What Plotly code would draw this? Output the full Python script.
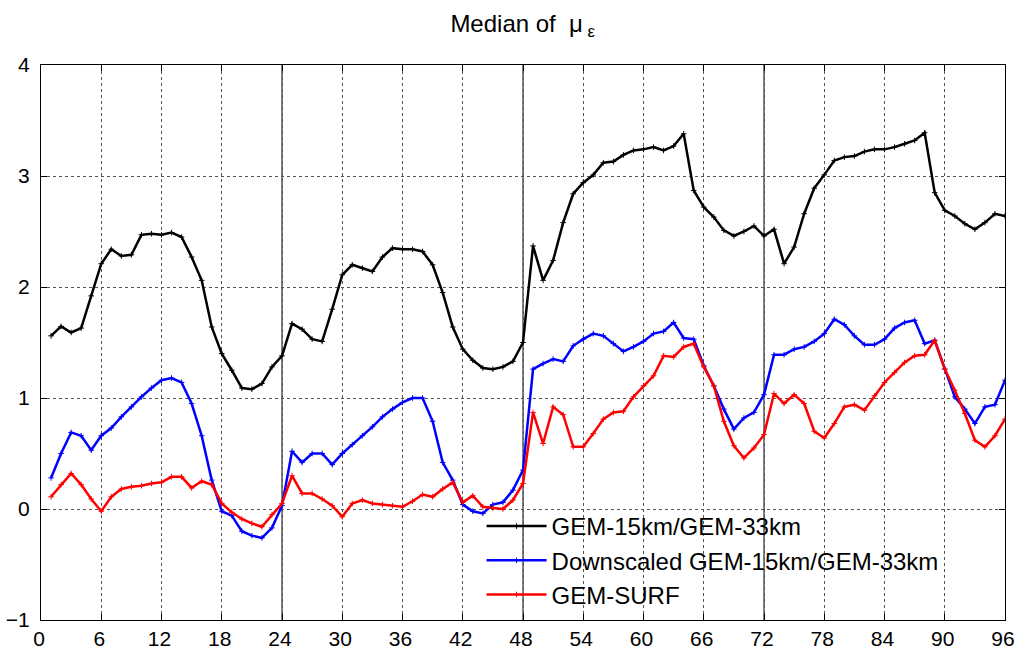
import plotly.graph_objects as go

hours = list(range(1, 97))

gem15_33 = [1.56, 1.645, 1.59, 1.63, 1.92, 2.21, 2.34, 2.28, 2.29, 2.47, 2.48, 2.47,
            2.49, 2.45, 2.27, 2.06, 1.64, 1.40, 1.25, 1.09, 1.08, 1.13, 1.28, 1.38,
            1.67, 1.62, 1.53, 1.51, 1.80, 2.11, 2.20, 2.17, 2.14, 2.27, 2.35, 2.34,
            2.34, 2.32, 2.20, 1.95, 1.64, 1.44, 1.34, 1.27, 1.26, 1.28, 1.33, 1.50,
            2.37, 2.06, 2.24, 2.58, 2.84, 2.94, 3.01, 3.12, 3.13, 3.19, 3.23, 3.24,
            3.26, 3.23, 3.27, 3.38, 2.87, 2.72, 2.63, 2.51, 2.46, 2.50, 2.55, 2.46,
            2.52, 2.21, 2.36, 2.66, 2.89, 3.01, 3.14, 3.17, 3.18, 3.22, 3.24, 3.24,
            3.26, 3.29, 3.32, 3.39, 2.85, 2.69, 2.64, 2.57, 2.52, 2.58, 2.66, 2.64]

downscaled = [0.28, 0.50, 0.69, 0.66, 0.53, 0.66, 0.73, 0.83, 0.92, 1.01, 1.09, 1.16,
              1.18, 1.14, 0.95, 0.66, 0.26, -0.02, -0.06, -0.20, -0.24, -0.26, -0.17, 0.03,
              0.52, 0.42, 0.50, 0.50, 0.40, 0.50, 0.58, 0.66, 0.74, 0.83, 0.90, 0.96,
              1.00, 1.00, 0.79, 0.42, 0.26, 0.04, -0.02, -0.04, 0.04, 0.06, 0.17, 0.35,
              1.26, 1.31, 1.35, 1.33, 1.47, 1.53, 1.58, 1.56, 1.49, 1.42, 1.46, 1.51,
              1.58, 1.60, 1.68, 1.54, 1.53, 1.29, 1.11, 0.90, 0.72, 0.82, 0.87, 1.03,
              1.39, 1.39, 1.44, 1.46, 1.51, 1.58, 1.71, 1.66, 1.56, 1.48, 1.48, 1.53,
              1.63, 1.68, 1.70, 1.49, 1.52, 1.26, 1.01, 0.90, 0.77, 0.92, 0.94, 1.16]

gem_surf = [0.11, 0.22, 0.32, 0.22, 0.09, -0.02, 0.11, 0.18, 0.20, 0.21, 0.23, 0.24,
            0.29, 0.29, 0.19, 0.25, 0.22, 0.05, -0.03, -0.09, -0.13, -0.16, -0.05, 0.05,
            0.30, 0.14, 0.14, 0.09, 0.03, -0.07, 0.05, 0.08, 0.05, 0.04, 0.03, 0.02,
            0.07, 0.13, 0.11, 0.18, 0.24, 0.06, 0.12, 0.02, 0.01, 0.00, 0.08, 0.23,
            0.87, 0.59, 0.92, 0.85, 0.56, 0.56, 0.68, 0.81, 0.87, 0.88, 1.01, 1.11,
            1.20, 1.38, 1.37, 1.46, 1.49, 1.28, 1.11, 0.79, 0.57, 0.46, 0.55, 0.67,
            1.04, 0.95, 1.03, 0.95, 0.70, 0.64, 0.77, 0.92, 0.94, 0.89, 1.02, 1.14,
            1.23, 1.32, 1.38, 1.39, 1.52, 1.26, 1.07, 0.86, 0.62, 0.56, 0.66, 0.81]

series_names = ["GEM-15km/GEM-33km", "Downscaled GEM-15km/GEM-33km", "GEM-SURF"]
series_colors = ["#000000", "#0000ff", "#ff0000"]
series_values = [gem15_33, downscaled, gem_surf]

x_ticks = list(range(0, 97, 6))
y_ticks = [-1, 0, 1, 2, 3, 4]
day_bounds = [24, 48, 72]

fig = go.Figure()
for name, color, vals in zip(series_names, series_colors, series_values):
    fig.add_trace(go.Scatter(
        x=hours, y=vals, name=name, mode="lines+markers",
        line=dict(color=color, width=2.5),
        marker=dict(symbol="cross-thin", size=4, color=color,
                    line=dict(color=color, width=1)),
    ))

for b in day_bounds:
    fig.add_shape(type="line", xref="x", yref="paper", x0=b, x1=b, y0=0, y1=1,
                  line=dict(color="black", width=1), layer="below")

tick_font = dict(family="Liberation Sans, Arial, sans-serif", size=21, color="black")
axis_common = dict(ticks="inside", ticklen=6, tickcolor="black", showline=True,
                   linecolor="black", linewidth=1, mirror="ticks", showgrid=True,
                   gridcolor="#555", griddash="dot", gridwidth=1, zeroline=False,
                   tickfont=tick_font, automargin=False)

fig.update_layout(
    template="none",
    width=1017, height=660,
    margin=dict(l=41, r=12, t=65, b=40),
    paper_bgcolor="white", plot_bgcolor="white",
    title=dict(text="Median of  μ<sub> ε</sub>", x=0.514, xanchor="center",
               y=0.965, yanchor="middle",
               font=dict(family="Liberation Sans, Arial, sans-serif", size=24, color="black")),
    xaxis=dict(range=[0, 96], tickvals=x_ticks, ticklabelshift=-2, **axis_common),
    yaxis=dict(range=[-1, 4], tickvals=y_ticks, ticklabelstandoff=6, **axis_common),
    legend=dict(x=0.457, y=0.209, xanchor="left", yanchor="top",
                bgcolor="rgba(0,0,0,0)", borderwidth=0, itemwidth=60,
                font=dict(family="Liberation Sans, Arial, sans-serif", size=24, color="black"),
                tracegroupgap=0),
    showlegend=True,
)

fig.write_html(
    "out.html",
    config={"displayModeBar": False},
    post_script="document.body.style.margin='0';document.body.style.overflow='hidden';",
)
